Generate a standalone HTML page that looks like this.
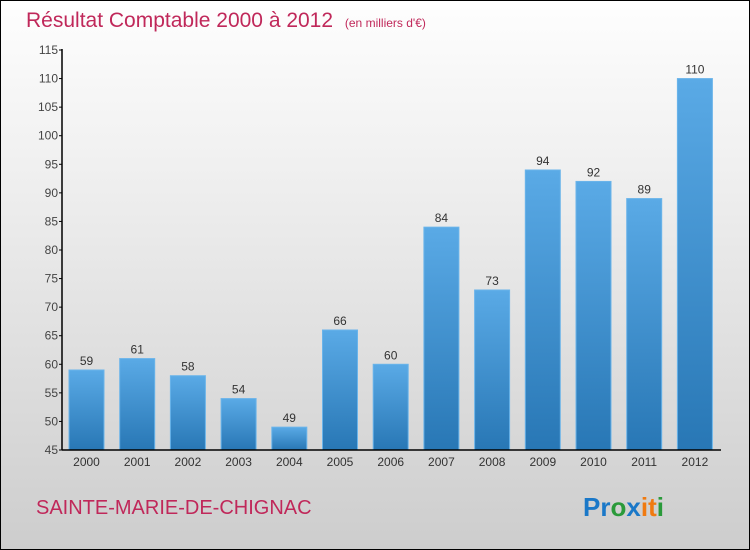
<!DOCTYPE html>
<html><head><meta charset="utf-8"><style>
body{margin:0;}
#wrap{position:relative;width:748px;height:548px;border:1px solid #000;background:linear-gradient(#fefefe,#f0f0f0 30%,#cdcdcd);font-family:"Liberation Sans",sans-serif;overflow:hidden}
</style></head><body>
<div id="wrap">
<svg id="chart" width="748" height="548">
<defs><linearGradient id="bg" x1="0" y1="0" x2="0" y2="1"><stop offset="0" stop-color="#5aaae6"/><stop offset="1" stop-color="#2877b5"/></linearGradient></defs>
<text x="25" y="26" font-size="21" fill="#c0285a">Résultat Comptable 2000 à 2012 <tspan font-size="12" dx="6">(en milliers d'€)</tspan></text>
<text x="35" y="513" font-size="20" fill="#c0285a">SAINTE-MARIE-DE-CHIGNAC</text>
<text x="582" y="515" font-size="26" font-weight="bold"><tspan fill="#1a78c8">Pr</tspan><tspan fill="#2a9a3a">o</tspan><tspan fill="#1a78c8">x</tspan><tspan fill="#f07a10">i</tspan><tspan fill="#f07a10">t</tspan><tspan fill="#2a9a3a">i</tspan></text>
<g id="g"></g>
</svg>
</div>
<script>
const categories=["2000","2001","2002","2003","2004","2005","2006","2007","2008","2009","2010","2011","2012"];
const values=[59,61,58,54,49,66,60,84,73,94,92,89,110];
const yTicks=[45,50,55,60,65,70,75,80,85,90,95,100,105,110,115];
const NS="http://www.w3.org/2000/svg";
const g=document.getElementById("g");
const x0=61,x1=720,yBase=449,yTop=49,ymin=45,ymax=115;
const y=v=>yBase-(v-ymin)*(yBase-yTop)/(ymax-ymin);
const step=50.7, bw=35;
const xc=i=>x0+24.5+i*step;
function mk(t,a){const e=document.createElementNS(NS,t);for(const k in a)e.setAttribute(k,a[k]);g.appendChild(e);return e;}
yTicks.forEach(v=>{
 const l=mk("line",{x1:x0-3,x2:x0,y1:y(v),y2:y(v),stroke:"#000"});
 
 
 const t=mk("text",{x:x0-4,y:y(v)+4,"font-size":12,"text-anchor":"end",fill:"#444"});t.textContent=v;
 
 
});
categories.forEach((c,i)=>{
 const r=mk("rect",{x:xc(i)-bw/2,y:y(values[i]),width:bw,height:yBase-y(values[i]),fill:"url(#bg)",stroke:"#6ab4ea","stroke-width":1});
 
 
 const v=mk("text",{x:xc(i),y:y(values[i])-5,"font-size":12,"text-anchor":"middle",fill:"#333"});v.textContent=values[i];
 
 
 const t=mk("text",{x:xc(i),y:yBase+16,"font-size":12,"text-anchor":"middle",fill:"#333"});t.textContent=c;
 
 
});
const ya=mk("line",{x1:x0,x2:x0,y1:yTop-1,y2:yBase,stroke:"#000","stroke-width":1.5});


const xa=mk("line",{x1:x0,x2:x1,y1:yBase,y2:yBase,stroke:"#000","stroke-width":1.5});


</script>
</body></html>
